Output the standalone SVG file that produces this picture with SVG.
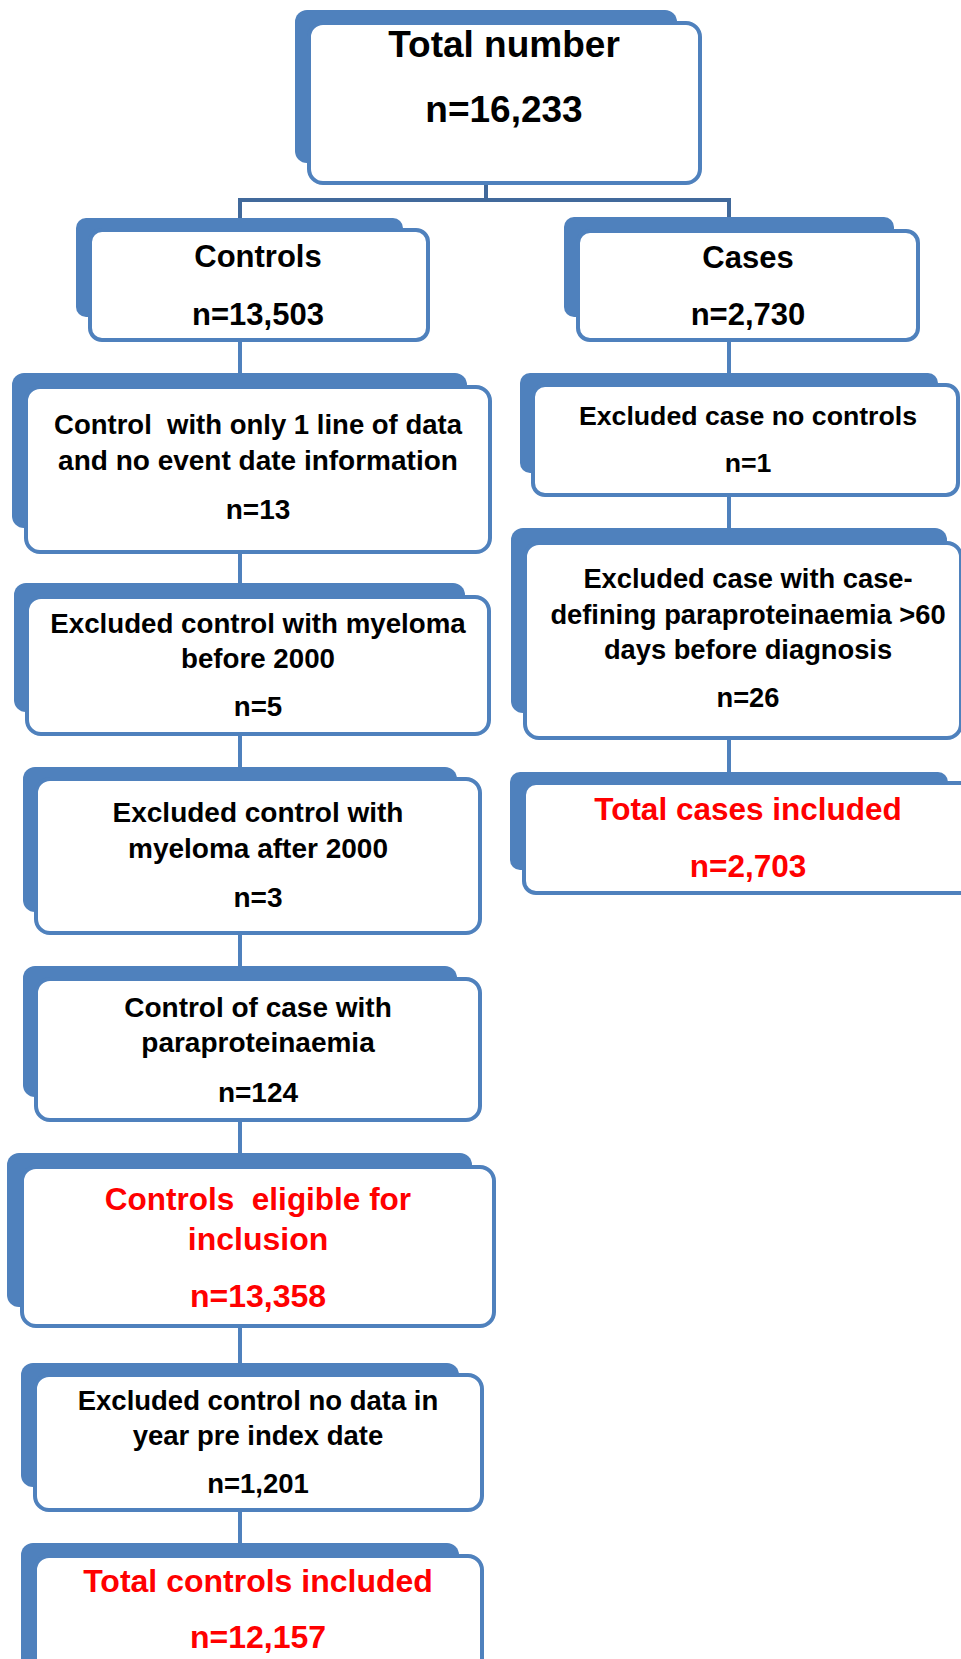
<svg xmlns="http://www.w3.org/2000/svg" width="961" height="1659" viewBox="0 0 961 1659">
<style>
.bk{fill:#4F81BD;}
.fr{fill:#FFFFFF;stroke:#4F81BD;stroke-width:4;}
.ln{stroke:#4F81BD;stroke-width:4;fill:none;}
.ln2{stroke:#41699B;stroke-width:4;fill:none;}
text{font-family:"Liberation Sans",Arial,sans-serif;font-weight:bold;text-anchor:middle;fill:#000000;white-space:pre;}
.r{fill:#FF0000;}
</style>
<rect width="961" height="1659" fill="#FFFFFF"/>
<g id="connectors">
<polyline class="ln2" points="486,183 486,200"/>
<polyline class="ln2" points="240,218 240,200 729,200 729,218"/>
<line class="ln" x1="240" y1="340" x2="240" y2="373"/>
<line class="ln" x1="240" y1="552" x2="240" y2="583"/>
<line class="ln" x1="240" y1="734" x2="240" y2="767"/>
<line class="ln" x1="240" y1="933" x2="240" y2="966"/>
<line class="ln" x1="240" y1="1120" x2="240" y2="1153"/>
<line class="ln" x1="240" y1="1326" x2="240" y2="1363"/>
<line class="ln" x1="240" y1="1510" x2="240" y2="1543"/>
<line class="ln" x1="729" y1="340" x2="729" y2="373"/>
<line class="ln" x1="729" y1="495" x2="729" y2="528"/>
<line class="ln" x1="729" y1="738" x2="729" y2="772"/>
</g>
<g id="total">
<rect class="bk" x="295" y="10" width="382" height="153" rx="12"/>
<rect class="fr" x="309" y="23" width="391" height="160" rx="14"/>
<text x="504" y="57" font-size="37">Total number</text>
<text x="504" y="122" font-size="37">n=16,233</text>
</g>
<g id="controls">
<rect class="bk" x="76" y="218" width="327" height="99" rx="10"/>
<rect class="fr" x="90" y="230" width="338" height="110" rx="12"/>
<text x="258" y="267" font-size="31">Controls</text>
<text x="258" y="325" font-size="31">n=13,503</text>
</g>
<g id="cases">
<rect class="bk" x="564" y="217" width="330" height="100" rx="10"/>
<rect class="fr" x="578" y="231" width="340" height="109" rx="12"/>
<text x="748" y="268" font-size="31">Cases</text>
<text x="748" y="325" font-size="31">n=2,730</text>
</g>
<g id="ctrl-one-line">
<rect class="bk" x="12" y="373" width="455" height="155" rx="12"/>
<rect class="fr" x="26" y="387" width="464" height="165" rx="14"/>
<text x="258" y="434" font-size="27.5" xml:space="preserve">Control  with only 1 line of data</text>
<text x="258" y="470" font-size="28">and no event date information</text>
<text x="258" y="519" font-size="28">n=13</text>
</g>
<g id="ctrl-myeloma-before">
<rect class="bk" x="14" y="583" width="451" height="129" rx="12"/>
<rect class="fr" x="27" y="597" width="462" height="137" rx="14"/>
<text x="258" y="633" font-size="27.7">Excluded control with myeloma</text>
<text x="258" y="668" font-size="27.7">before 2000</text>
<text x="258" y="716" font-size="27.7">n=5</text>
</g>
<g id="ctrl-myeloma-after">
<rect class="bk" x="23" y="767" width="434" height="145" rx="12"/>
<rect class="fr" x="36" y="779" width="444" height="154" rx="14"/>
<text x="258" y="822" font-size="28">Excluded control with</text>
<text x="258" y="858" font-size="28">myeloma after 2000</text>
<text x="258" y="907" font-size="28">n=3</text>
</g>
<g id="ctrl-paraprotein">
<rect class="bk" x="23" y="966" width="434" height="131" rx="12"/>
<rect class="fr" x="36" y="979" width="444" height="141" rx="14"/>
<text x="258" y="1017" font-size="28">Control of case with</text>
<text x="258" y="1052" font-size="28">paraproteinaemia</text>
<text x="258" y="1102" font-size="28">n=124</text>
</g>
<g id="ctrl-eligible">
<rect class="bk" x="7" y="1153" width="465" height="154" rx="12"/>
<rect class="fr" x="22" y="1167" width="472" height="159" rx="14"/>
<text class="r" x="258" y="1210" font-size="31.5" xml:space="preserve">Controls  eligible for</text>
<text class="r" x="258" y="1250" font-size="32">inclusion</text>
<text class="r" x="258" y="1307" font-size="32">n=13,358</text>
</g>
<g id="ctrl-no-data">
<rect class="bk" x="21" y="1363" width="438" height="124" rx="12"/>
<rect class="fr" x="35" y="1375" width="447" height="135" rx="14"/>
<text x="258" y="1410" font-size="27.5">Excluded control no data in</text>
<text x="258" y="1445" font-size="27.5">year pre index date</text>
<text x="258" y="1493" font-size="27.5">n=1,201</text>
</g>
<g id="ctrl-total">
<rect class="bk" x="21" y="1543" width="438" height="140" rx="12"/>
<rect class="fr" x="35" y="1556" width="447" height="140" rx="14"/>
<text class="r" x="258" y="1592" font-size="32">Total controls included</text>
<text class="r" x="258" y="1648" font-size="32">n=12,157</text>
</g>
<g id="case-no-controls">
<rect class="bk" x="520" y="373" width="418" height="100" rx="10"/>
<rect class="fr" x="533" y="385" width="425" height="110" rx="12"/>
<text x="748" y="425" font-size="26.7">Excluded case no controls</text>
<text x="748" y="472" font-size="26.7">n=1</text>
</g>
<g id="case-paraprotein">
<rect class="bk" x="511" y="528" width="436" height="185" rx="12"/>
<rect class="fr" x="525" y="543" width="436" height="195" rx="14"/>
<text x="748" y="588" font-size="27.3">Excluded case with case-</text>
<text x="748" y="624" font-size="27.3">defining paraproteinaemia &gt;60</text>
<text x="748" y="659" font-size="27.3">days before diagnosis</text>
<text x="748" y="707" font-size="27.3">n=26</text>
</g>
<g id="case-total">
<rect class="bk" x="510" y="772" width="438" height="98" rx="10"/>
<rect class="fr" x="524" y="783" width="460" height="110" rx="12"/>
<text class="r" x="748" y="820" font-size="31.5">Total cases included</text>
<text class="r" x="748" y="877" font-size="31.5">n=2,703</text>
</g>
</svg>
